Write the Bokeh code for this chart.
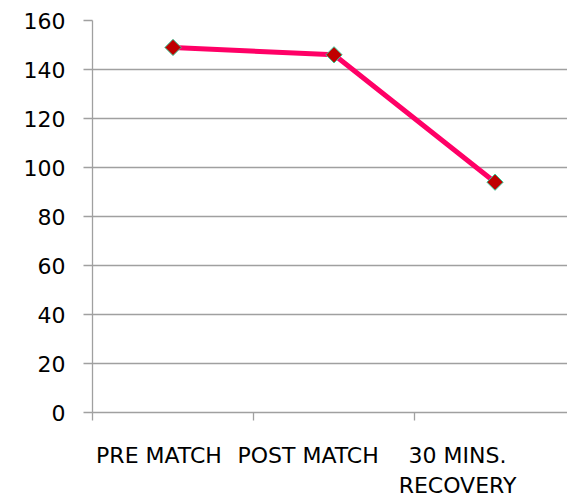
from bokeh.plotting import figure
from bokeh.models import FixedTicker, Range1d
from bokeh.embed import file_html
from bokeh.resources import INLINE

# ---- data ----
categories = ["PRE MATCH", "POST MATCH", "30 MINS.\nRECOVERY"]
values = [149, 146, 94]
y_ticks = [0, 20, 40, 60, 80, 100, 120, 140, 160]

# ---- layout ----
FONT = "DejaVu Sans"
GREY = "#a0a0a0"
x = [i + 0.5 for i in range(len(categories))]
boundaries = [i for i in range(len(categories) + 1)]
label_pos = [0.413, 1.339, 2.267]

p = figure(width=567, height=500, output_backend="svg", toolbar_location=None,
           x_range=Range1d(0, 2.95), y_range=Range1d(0, 160),
           min_border_left=92, min_border_right=0, min_border_top=20,
           min_border_bottom=88)
p.outline_line_color = None
p.background_fill_color = "white"
p.border_fill_color = "white"

p.xgrid.visible = False
p.ygrid.ticker = FixedTicker(ticks=y_ticks)
p.ygrid.grid_line_color = GREY
p.ygrid.grid_line_width = 1.3

# x axis
xa = p.xaxis[0]
xa.ticker = FixedTicker(ticks=label_pos, minor_ticks=boundaries)
xa.major_label_overrides = {pos: cat for pos, cat in zip(label_pos, categories)}
xa.major_tick_line_color = None
xa.major_tick_in = 0
xa.major_tick_out = 0
xa.minor_tick_in = 0
xa.minor_tick_out = 8
xa.minor_tick_line_color = GREY
xa.minor_tick_line_width = 1.3
xa.axis_line_color = GREY
xa.axis_line_width = 1.3
xa.major_label_standoff = 22
xa.major_label_text_font = FONT
xa.major_label_text_font_size = "22px"
xa.major_label_text_line_height = 1.2
xa.major_label_text_color = "black"

# y axis
ya = p.yaxis[0]
ya.ticker = FixedTicker(ticks=y_ticks)
ya.major_tick_in = 0
ya.major_tick_out = 9
ya.major_tick_line_color = GREY
ya.major_tick_line_width = 1.3
ya.minor_tick_line_color = None
ya.axis_line_color = GREY
ya.axis_line_width = 1.3
ya.major_label_standoff = 18
ya.major_label_text_font = FONT
ya.major_label_text_font_size = "22px"
ya.major_label_text_color = "black"

# series
p.line(x, values, line_color="#ff0066", line_width=5)
p.scatter(x, values, marker="square", size=11.5, angle=0.785398,
          fill_color="#c00000", line_color="#33cc99", line_width=1)

open("out.html", "w").write(file_html(p, INLINE))
